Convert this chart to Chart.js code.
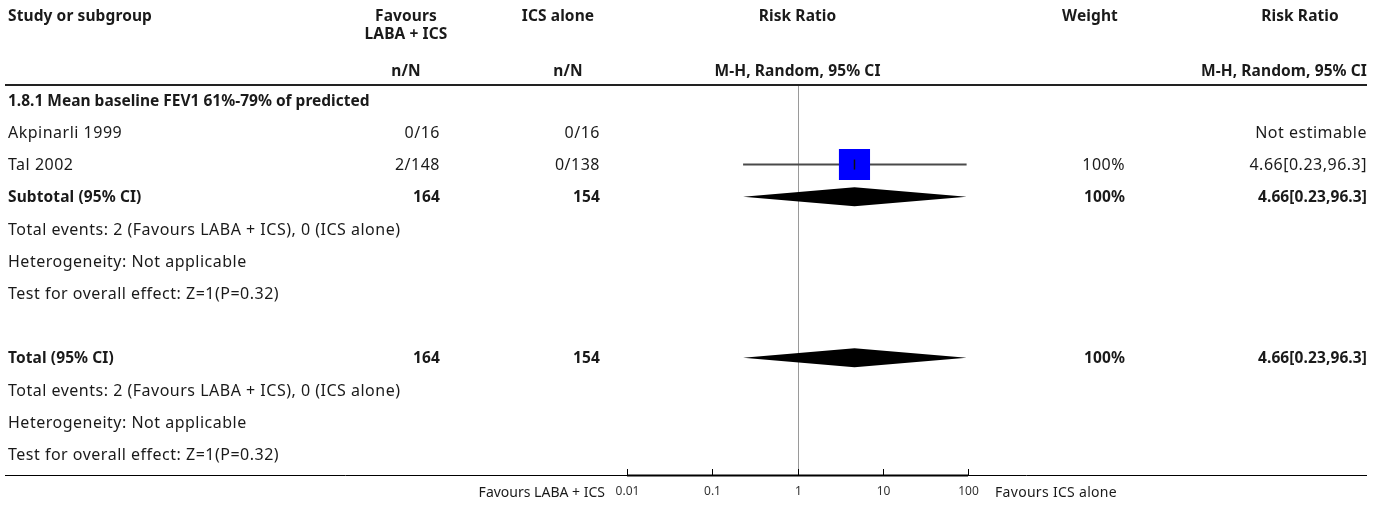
<!DOCTYPE html>
<html>
<head>
<meta charset="utf-8">
<script src="https://cdn.jsdelivr.net/npm/chart.js@4.4.1/dist/chart.umd.min.js"></script>
<style>
  html, body { margin: 0; padding: 0; background: #ffffff; }
  #wrap { width: 1375px; height: 506px; position: relative; }
</style>
</head>
<body>
<div id="wrap"><canvas id="c" width="1375" height="506"></canvas></div>
<script>
// ---------------- data ----------------
const groupTitle = '1.8.1 Mean baseline FEV1 61%-79% of predicted';
const studyNames = ['Akpinarli 1999', 'Tal 2002'];
const eventsLABA = ['0/16', '2/148'];
const eventsICS = ['0/16', '0/138'];
const studyRR = [null, 4.66];
const studyLo = [null, 0.23];
const studyHi = [null, 96.3];
const studyWeight = ['', '100%'];
const studyWeightPct = [0, 100];
const studyRRText = ['Not estimable', '4.66[0.23,96.3]'];

const subtotalN = ['164', '154'];
const subtotalRR = [4.66, 0.23, 96.3];
const subtotalText = '4.66[0.23,96.3]';
const subtotalWeight = '100%';
const subtotalNotes = [
  'Total events: 2 (Favours LABA + ICS), 0 (ICS alone)',
  'Heterogeneity: Not applicable',
  'Test for overall effect: Z=1(P=0.32)'
];

const totalN = ['164', '154'];
const totalRR = [4.66, 0.23, 96.3];
const totalText = '4.66[0.23,96.3]';
const totalWeight = '100%';
const totalNotes = [
  'Total events: 2 (Favours LABA + ICS), 0 (ICS alone)',
  'Heterogeneity: Not applicable',
  'Test for overall effect: Z=1(P=0.32)'
];

const tickValues = [0.01, 0.1, 1, 10, 100];
const tickLabels = ['0.01', '0.1', '1', '10', '100'];
const favoursLeft = 'Favours LABA + ICS';
const favoursRight = 'Favours ICS alone';

// ---------------- row layout ----------------
const ROW_GROUP = 0;
const studyRows = [1, 2];
const ROW_SUB = 3;
const subNoteRows = [4, 5, 6];
const ROW_TOTAL = 8;
const totNoteRows = [9, 10, 11];

// ---------------- styles ----------------
const FONT = '"Noto Sans", "DejaVu Sans", sans-serif';
const TXT = '#1a1a1a';
const fReg = '16px ' + FONT;
const fBold = 'bold 15.5px ' + FONT;
const fSmall = '14px ' + FONT;
const LS_REG = '0.5px';
const LS_BOLD = '0.1px';

const COL_STUDY = 8, COL_N1 = 440, COL_N2 = 600, COL_W = 1125, COL_RR = 1367;
const LINE_L = 5, LINE_R = 1367;

// datasets built from data
const ciDatasets = [];
const squarePts = [];
const squareSizes = [];
const centerPts = [];
studyNames.forEach((n, i) => {
  if (studyRR[i] !== null) {
    ciDatasets.push({
      type: 'line',
      data: [{x: studyLo[i], y: studyRows[i]}, {x: studyHi[i], y: studyRows[i]}],
      borderColor: '#4a4a4a',
      borderWidth: 2,
      pointRadius: 0,
      order: 3
    });
    squarePts.push({x: studyRR[i], y: studyRows[i]});
    squareSizes.push(22 * Math.sqrt(studyWeightPct[i] / 100));
    centerPts.push({x: studyRR[i], y: studyRows[i]});
  }
});

const diamonds = [
  {row: ROW_SUB, est: subtotalRR[0], lo: subtotalRR[1], hi: subtotalRR[2]},
  {row: ROW_TOTAL, est: totalRR[0], lo: totalRR[1], hi: totalRR[2]}
];

function txt(ctx, s, x, y, align, font, ls) {
  ctx.font = font;
  ctx.letterSpacing = ls !== undefined ? ls : (font.indexOf('bold') === 0 ? LS_BOLD : LS_REG);
  ctx.textAlign = align;
  ctx.textBaseline = 'middle';
  ctx.fillStyle = TXT;
  ctx.fillText(s, x, y);
  ctx.letterSpacing = '0px';
}

const forestPlugin = {
  id: 'forest',
  beforeDatasetsDraw(chart) {
    const ctx = chart.ctx;
    const xs = chart.scales.x, area = chart.chartArea;
    ctx.save();
    const x1 = Math.round(xs.getPixelForValue(1)) + 0.5;
    ctx.strokeStyle = '#9a9a9a';
    ctx.lineWidth = 1;
    ctx.beginPath();
    ctx.moveTo(x1, area.top);
    ctx.lineTo(x1, area.bottom);
    ctx.stroke();
    ctx.restore();
  },
  afterDatasetsDraw(chart) {
    const ctx = chart.ctx;
    const xs = chart.scales.x, ys = chart.scales.y, area = chart.chartArea;
    ctx.save();
    // diamonds
    diamonds.forEach(d => {
      const yc = ys.getPixelForValue(d.row);
      const h = 9.5;
      ctx.fillStyle = '#000000';
      ctx.beginPath();
      ctx.moveTo(xs.getPixelForValue(d.lo), yc);
      ctx.lineTo(xs.getPixelForValue(d.est), yc - h);
      ctx.lineTo(xs.getPixelForValue(d.hi), yc);
      ctx.lineTo(xs.getPixelForValue(d.est), yc + h);
      ctx.closePath();
      ctx.fill();
    });

    // header texts
    txt(ctx, 'Study or subgroup', COL_STUDY, 17, 'left', fBold);
    txt(ctx, 'Favours', 406, 17, 'center', fBold);
    txt(ctx, 'LABA + ICS', 406, 35, 'center', fBold);
    txt(ctx, 'ICS alone', 558, 17, 'center', fBold);
    txt(ctx, 'n/N', 406, 72, 'center', fBold);
    txt(ctx, 'n/N', 568, 72, 'center', fBold);
    const xMid = xs.getPixelForValue(1);
    txt(ctx, 'Risk Ratio', xMid, 17, 'center', fBold);
    txt(ctx, 'M-H, Random, 95% CI', xMid, 72, 'center', fBold);
    txt(ctx, 'Weight', 1090, 17, 'center', fBold);
    txt(ctx, 'Risk Ratio', 1300, 17, 'center', fBold);
    txt(ctx, 'M-H, Random, 95% CI', COL_RR, 72, 'right', fBold);

    // header line
    ctx.strokeStyle = '#222222';
    ctx.lineWidth = 2;
    ctx.beginPath();
    ctx.moveTo(LINE_L, area.top);
    ctx.lineTo(LINE_R, area.top);
    ctx.stroke();

    const dy = 1;
    txt(ctx, groupTitle, COL_STUDY, ys.getPixelForValue(ROW_GROUP) + dy, 'left', fBold, '0px');
    studyNames.forEach((n, i) => {
      const y = ys.getPixelForValue(studyRows[i]) + dy;
      txt(ctx, n, COL_STUDY, y, 'left', fReg);
      txt(ctx, eventsLABA[i], COL_N1, y, 'right', fReg);
      txt(ctx, eventsICS[i], COL_N2, y, 'right', fReg);
      if (studyWeight[i]) txt(ctx, studyWeight[i], COL_W, y, 'right', fReg);
      txt(ctx, studyRRText[i], COL_RR, y, 'right', fReg);
    });
    let y = ys.getPixelForValue(ROW_SUB) + dy;
    txt(ctx, 'Subtotal (95% CI)', COL_STUDY, y, 'left', fBold);
    txt(ctx, subtotalN[0], COL_N1, y, 'right', fBold);
    txt(ctx, subtotalN[1], COL_N2, y, 'right', fBold);
    txt(ctx, subtotalWeight, COL_W, y, 'right', fBold);
    txt(ctx, subtotalText, COL_RR, y, 'right', fBold);
    subtotalNotes.forEach((s, i) => txt(ctx, s, COL_STUDY, ys.getPixelForValue(subNoteRows[i]) + dy, 'left', fReg));
    y = ys.getPixelForValue(ROW_TOTAL) + dy;
    txt(ctx, 'Total (95% CI)', COL_STUDY, y, 'left', fBold);
    txt(ctx, totalN[0], COL_N1, y, 'right', fBold);
    txt(ctx, totalN[1], COL_N2, y, 'right', fBold);
    txt(ctx, totalWeight, COL_W, y, 'right', fBold);
    txt(ctx, totalText, COL_RR, y, 'right', fBold);
    totalNotes.forEach((s, i) => txt(ctx, s, COL_STUDY, ys.getPixelForValue(totNoteRows[i]) + dy, 'left', fReg));

    // bottom rule and axis
    const yb = area.bottom;
    ctx.strokeStyle = '#000000';
    ctx.lineWidth = 1;
    ctx.beginPath();
    ctx.moveTo(LINE_L, yb + 0.5);
    ctx.lineTo(LINE_R, yb + 0.5);
    ctx.stroke();
    ctx.lineWidth = 2;
    ctx.beginPath();
    ctx.moveTo(xs.getPixelForValue(tickValues[0]), yb + 0.5);
    ctx.lineTo(xs.getPixelForValue(tickValues[tickValues.length - 1]), yb + 0.5);
    ctx.stroke();
    ctx.lineWidth = 1;
    tickValues.forEach((v, i) => {
      const tx = Math.round(xs.getPixelForValue(v)) + 0.5;
      ctx.beginPath();
      ctx.moveTo(tx, yb - 6);
      ctx.lineTo(tx, yb);
      ctx.stroke();
      ctx.font = '12px ' + FONT;
      ctx.textAlign = 'center';
      ctx.textBaseline = 'middle';
      ctx.fillStyle = '#333333';
      ctx.fillText(tickLabels[i], tx, yb + 17);
    });
    txt(ctx, favoursLeft, 605, yb + 18, 'right', fSmall, '0px');
    txt(ctx, favoursRight, 995, yb + 18, 'left', fSmall, '0.3px');
    ctx.restore();
  }
};

new Chart(document.getElementById('c'), {
  type: 'scatter',
  data: {
    datasets: [
      ...ciDatasets,
      {
        type: 'scatter',
        data: squarePts,
        pointStyle: 'rect',
        pointRadius: squareSizes,
        pointHoverRadius: squareSizes,
        backgroundColor: '#0000ff',
        borderWidth: 0,
        order: 2
      },
      {
        type: 'scatter',
        data: centerPts,
        pointStyle: 'line',
        rotation: 90,
        pointRadius: 5,
        borderColor: '#111111',
        borderWidth: 1.5,
        order: 1
      }
    ]
  },
  options: {
    responsive: false,
    animation: false,
    events: [],
    layout: { padding: { left: 627, right: 407, top: 85, bottom: 31 } },
    plugins: { legend: { display: false }, tooltip: { enabled: false } },
    scales: {
      x: { type: 'logarithmic', min: 0.01, max: 100, display: false },
      y: { type: 'linear', reverse: true, min: -0.47, max: 11.64, display: false }
    }
  },
  plugins: [forestPlugin]
});
</script>
</body>
</html>
